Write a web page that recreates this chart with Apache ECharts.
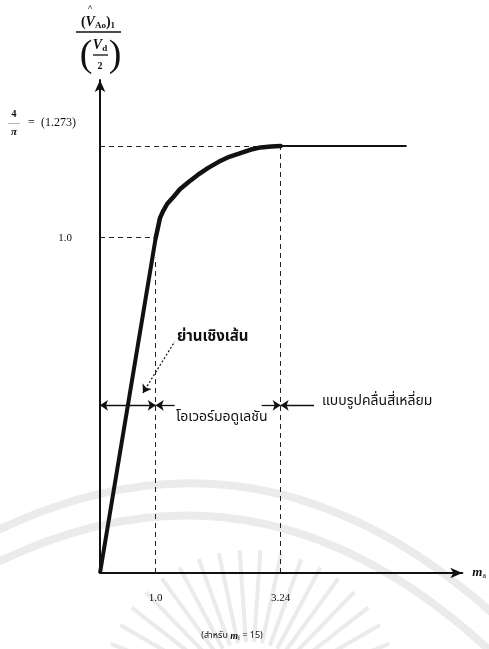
<!DOCTYPE html>
<html>
<head>
<meta charset="utf-8">
<script src="https://cdn.jsdelivr.net/npm/echarts@6/dist/echarts.min.js"></script>
<style>
  html, body { margin: 0; padding: 0; background: #ffffff; }
  #chart { width: 489px; height: 649px; }
</style>
</head>
<body>
<div id="chart"></div>
<script>
// Fundamental output voltage (V_Ao)_1 / (V_d/2) against the amplitude modulation ratio m_a
const linearX = [0, 1.0];
const linearY = [0, 1.0];
const overX = [1.0, 1.038, 1.075, 1.132, 1.207, 1.320, 1.433, 1.584, 1.753, 1.941, 2.129, 2.318, 2.506, 2.694, 2.882, 3.071, 3.24];
const overY = [1.0, 1.029, 1.058, 1.079, 1.101, 1.122, 1.144, 1.165, 1.187, 1.208, 1.226, 1.241, 1.251, 1.262, 1.269, 1.272, 1.273];
const squareX = [3.24, 5.5];
const squareY = [1.273, 1.273];

const xTicks = [1.0, 3.24];
const xTickLabels = ['1.0', '3.24'];
const yTicks = [1.0, 1.273];

// region boundaries and the height at which the region arrows sit
const regionY = 0.5;
const linearEnd = 1.0;
const squareStart = 3.24;

const regionNames = ['ย่านเชิงเส้น', 'โอเวอร์มอดูเลชัน', 'แบบรูปคลื่นสี่เหลี่ยม'];
const caption = ['(สำหรับ ', 'm', 'f', ' = 15)'];

const zip = (xs, ys) => xs.map((x, i) => [x, ys[i]]);

const SERIF = '"Liberation Serif", "DejaVu Serif", serif';
const THAI = '"Noto Sans Thai", "Noto Serif Thai", "Tahoma", "DejaVu Sans", sans-serif';
const INK = '#111';
const WM = '#ebebeb';

const chart = echarts.init(document.getElementById('chart'), null, { renderer: 'canvas' });

// faint watermark behind the plot
const watermark = [];
watermark.push({
  type: 'bezierCurve', z: -10, silent: true,
  shape: { x1: -10, y1: 534, cpx1: 260, cpy1: 400, x2: 500, y2: 620 },
  style: { fill: null, stroke: WM, lineWidth: 8 }
});
watermark.push({
  type: 'bezierCurve', z: -10, silent: true,
  shape: { x1: -10, y1: 566, cpx1: 260, cpy1: 430, x2: 500, y2: 660 },
  style: { fill: null, stroke: WM, lineWidth: 8 }
});
for (let a = 22; a <= 158; a += 8) {
  const r = a * Math.PI / 180;
  const cx = 250, cy = 700, r1 = 58, r2 = 150;
  watermark.push({
    type: 'line', z: -10, silent: true,
    shape: { x1: cx + r1 * Math.cos(r), y1: cy - r1 * Math.sin(r), x2: cx + r2 * Math.cos(r), y2: cy - r2 * Math.sin(r) },
    style: { stroke: WM, lineWidth: 4 }
  });
}

const guide = { type: [5, 4], width: 1, color: '#222' };
const arrowLine = { type: 'solid', width: 1.3, color: INK };

const option = {
  backgroundColor: '#ffffff',
  animation: false,
  grid: { left: 100, top: 80, width: 365, height: 493 },
  xAxis: {
    type: 'value', min: 0, max: 6.5,
    splitLine: { show: false },
    axisTick: { show: false },
    axisLine: { show: true, symbol: ['none', 'arrow'], symbolSize: [8, 12], lineStyle: { color: INK, width: 2 } },
    axisLabel: {
      customValues: xTicks,
      formatter: v => xTickLabels[xTicks.indexOf(v)] || '',
      margin: 20, color: INK, fontFamily: SERIF, fontSize: 11
    },
    name: '{i|m}{s|a}', nameLocation: 'end', nameGap: 10,
    nameTextStyle: {
      rich: {
        i: { fontFamily: SERIF, fontStyle: 'italic', fontWeight: 'bold', fontSize: 13, color: INK },
        s: { fontFamily: SERIF, fontSize: 8, color: INK, padding: [6, 0, 0, 0] }
      }
    }
  },
  yAxis: {
    type: 'value', min: 0, max: 1.47,
    splitLine: { show: false },
    axisTick: { show: false },
    axisLine: { show: true, symbol: ['none', 'arrow'], symbolSize: [8, 12], lineStyle: { color: INK, width: 2 } },
    axisLabel: {
      customValues: yTicks,
      margin: 20, align: 'right',
      formatter: v => {
        if (Math.abs(v - yTicks[0]) < 1e-9) return '{o|' + v.toFixed(1) + '}';
        return '{a|4}{b| }\n{l|——}{e|=  (' + v.toFixed(3) + ')}\n{p|π}{b| }\n{sp| }';
      },
      rich: {
        o: { fontFamily: SERIF, fontSize: 11, color: INK, padding: [0, 8, 0, 0] },
        a: { fontFamily: SERIF, fontWeight: 'bold', fontSize: 10, color: INK, width: 12, align: 'center', lineHeight: 9 },
        p: { fontFamily: SERIF, fontWeight: 'bold', fontStyle: 'italic', fontSize: 11, color: INK, width: 12, align: 'center', lineHeight: 9 },
        l: { fontFamily: SERIF, fontSize: 6, color: INK, width: 12, align: 'center', lineHeight: 9 },
        b: { width: 60, lineHeight: 9 },
        e: { fontFamily: SERIF, fontSize: 12, color: INK, width: 56, align: 'left', lineHeight: 9, padding: [0, 0, 0, 4] },
        sp: { lineHeight: 46, width: 72 }
      }
    }
  },
  series: [
    {
      name: 'linear', type: 'line', data: zip(linearX, linearY),
      symbol: 'none', lineStyle: { color: INK, width: 4 }, z: 5
    },
    {
      name: 'overmodulation', type: 'line', data: zip(overX, overY),
      symbol: 'none', smooth: false, lineStyle: { color: INK, width: 4.5, join: 'round', cap: 'round' }, z: 5
    },
    {
      name: 'square wave', type: 'line', data: zip(squareX, squareY),
      symbol: 'none', lineStyle: { color: INK, width: 2 }, z: 5
    },
    {
      // dashed guide lines at the region limits
      name: 'guides', type: 'line', data: [], silent: true,
      markLine: {
        silent: true, symbol: 'none', label: { show: false }, lineStyle: guide,
        data: [
          [{ coord: [0, yTicks[0]] }, { coord: [linearEnd, yTicks[0]] }],
          [{ coord: [0, yTicks[1]] }, { coord: [squareStart, yTicks[1]] }],
          [{ coord: [linearEnd, 0] }, { coord: [linearEnd, 0.94] }],
          [{ coord: [squareStart, 0] }, { coord: [squareStart, yTicks[1]] }]
        ]
      }
    },
    {
      // arrows marking the three operating regions
      name: 'regions', type: 'line', data: [], silent: true,
      markLine: {
        silent: true, label: { show: false }, lineStyle: arrowLine, symbolSize: 8,
        data: [
          [{ coord: [0, regionY], symbol: 'arrow' }, { coord: [linearEnd, regionY], symbol: 'arrow' }],
          [{ coord: [linearEnd, regionY], symbol: 'arrow' }, { coord: [1.34, regionY], symbol: 'none' }],
          [{ coord: [2.9, regionY], symbol: 'none' }, { coord: [squareStart, regionY], symbol: 'arrow' }],
          [{ coord: [squareStart, regionY], symbol: 'arrow' }, { coord: [3.84, regionY], symbol: 'none' }],
          [{ coord: [0.77, 0.537], symbol: 'arrow', lineStyle: { type: [2, 2], width: 1.2, color: INK } },
           { coord: [1.34, 0.69], symbol: 'none' }]
        ]
      }
    }
  ],
  graphic: watermark.concat([
    // y-axis title: (V̂_Ao)_1 over (V_d / 2)
    { type: 'text', silent: true, style: { text: '^', x: 90, y: 9, align: 'center', verticalAlign: 'middle', font: 'bold 9px ' + SERIF, fill: INK } },
    {
      type: 'text', silent: true,
      style: {
        text: '{p|(}{v|V}{s|Ao}{p|)}{s|1}', x: 98, y: 22, align: 'center', verticalAlign: 'middle',
        rich: {
          p: { fontFamily: SERIF, fontWeight: 'bold', fontSize: 14, fill: INK },
          v: { fontFamily: SERIF, fontWeight: 'bold', fontStyle: 'italic', fontSize: 14, fill: INK },
          s: { fontFamily: SERIF, fontWeight: 'bold', fontSize: 9, fill: INK, padding: [7, 0, 0, 0] }
        }
      }
    },
    { type: 'line', silent: true, shape: { x1: 76, y1: 32, x2: 121, y2: 32 }, style: { stroke: INK, lineWidth: 1.5 } },
    { type: 'text', silent: true, style: { text: '(', x: 86, y: 56, align: 'center', verticalAlign: 'middle', font: '38px ' + SERIF, fill: INK } },
    { type: 'text', silent: true, style: { text: ')', x: 115, y: 56, align: 'center', verticalAlign: 'middle', font: '38px ' + SERIF, fill: INK } },
    {
      type: 'text', silent: true,
      style: {
        text: '{v|V}{s|d}', x: 100, y: 45, align: 'center', verticalAlign: 'middle',
        rich: {
          v: { fontFamily: SERIF, fontWeight: 'bold', fontStyle: 'italic', fontSize: 14, fill: INK },
          s: { fontFamily: SERIF, fontWeight: 'bold', fontSize: 9, fill: INK, padding: [7, 0, 0, 0] }
        }
      }
    },
    { type: 'line', silent: true, shape: { x1: 93, y1: 55, x2: 108, y2: 55 }, style: { stroke: INK, lineWidth: 1.3 } },
    { type: 'text', silent: true, style: { text: '2', x: 100, y: 66, align: 'center', verticalAlign: 'middle', font: 'bold 10px ' + SERIF, fill: INK } },

    // region names
    { type: 'text', silent: true, style: { text: regionNames[0], x: 177, y: 338, align: 'left', verticalAlign: 'middle', font: 'bold 15px ' + THAI, fill: INK } },
    { type: 'text', silent: true, style: { text: regionNames[1], x: 176, y: 418, align: 'left', verticalAlign: 'middle', font: '14px ' + THAI, fill: INK } },
    { type: 'text', silent: true, style: { text: regionNames[2], x: 322, y: 402, align: 'left', verticalAlign: 'middle', font: '14px ' + THAI, fill: INK } },

    // caption
    {
      type: 'text', silent: true,
      style: {
        text: '{t|' + caption[0] + '}{i|' + caption[1] + '}{s|' + caption[2] + '}{t|' + caption[3] + '}',
        x: 232, y: 636, align: 'center', verticalAlign: 'middle',
        rich: {
          t: { fontFamily: THAI, fontSize: 9, fill: INK },
          i: { fontFamily: SERIF, fontStyle: 'italic', fontWeight: 'bold', fontSize: 10, fill: INK },
          s: { fontFamily: SERIF, fontSize: 6, fill: INK, padding: [5, 0, 0, 0] }
        }
      }
    }
  ])
};

chart.setOption(option);
</script>
</body>
</html>
